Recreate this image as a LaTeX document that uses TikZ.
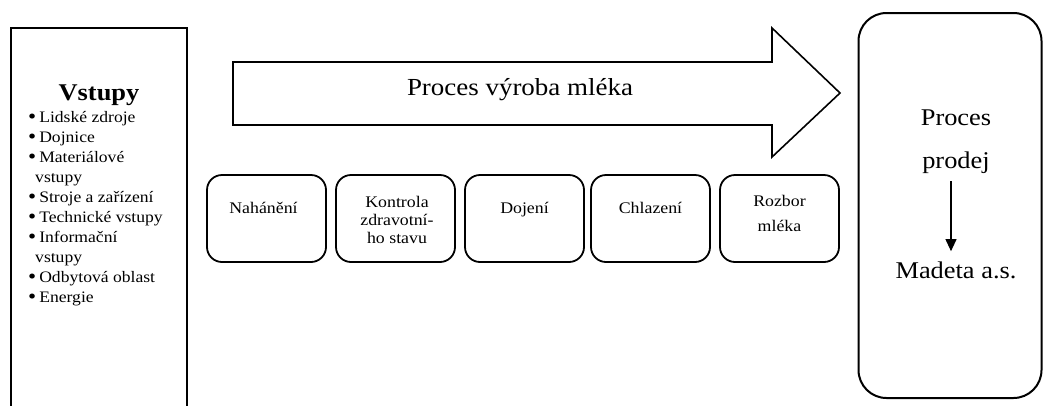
\documentclass[tikz,border=0pt]{standalone}
\usepackage{fontspec}
\setmainfont{Liberation Serif}[FakeStretch=1.1]
\usetikzlibrary{arrows.meta,calc}
\newcommand\mybul{{\fontsize{21}{20}\selectfont\raisebox{-1.9pt}{•}}\hspace{3pt}}
\begin{document}
\begin{tikzpicture}[x=1pt,y=-1pt,
  stepbox/.style={draw,line width=1.8pt,rounded corners=15pt,minimum width=119pt,minimum height=87pt,inner sep=0pt},
  boxtxt/.style={font=\fontsize{16.2}{18}\selectfont,anchor=base,inner sep=0pt},
  itemtxt/.style={font=\fontsize{16}{20}\selectfont,anchor=base west,inner sep=0pt},
  bigtxt/.style={font=\fontsize{24.5}{27}\selectfont,anchor=base,inner sep=0pt},
  saletxt/.style={font=\fontsize{24}{27}\selectfont,anchor=base,inner sep=0pt},
  salebox/.style={draw,line width=2pt,rounded corners=28pt,minimum width=183pt,minimum height=385pt,inner sep=0pt}]
\useasboundingbox (0,0) rectangle (1043,405);
\clip (0,0) rectangle (1043,405);
% inputs box (open at bottom)
\draw[line width=2.5pt] (11,430) -- (11,28) -- (187,28) -- (187,430);
\node[font=\bfseries\fontsize{24}{26}\selectfont,anchor=base,inner sep=0pt] (vst) at (99,100) {Vstupy};
\foreach \t [count=\i] in {\mybul Lidské zdroje,\mybul Dojnice,\mybul Materiálové,\hspace*{7pt}vstupy,\mybul Stroje a zařízení,\mybul Technické vstupy,\mybul Informační,\hspace*{7pt}vstupy,\mybul Odbytová oblast,\mybul Energie}
  \node[itemtxt] (l\i) at (28,{102+20*\i}) {\t};
% big process arrow
\draw[line width=1.6pt,line join=miter] (233,62) -- (772,62) -- (772,28) -- (840,93) -- (772,157) -- (772,125) -- (233,125) -- cycle;
\node[bigtxt] (title) at (520,95) {Proces výroba mléka};
% process steps
\node[stepbox] (b1) at (266.5,218.5) {};
\node[stepbox] (b2) at (395.5,218.5) {};
\node[stepbox] (b3) at (524.5,218.5) {};
\node[stepbox] (b4) at (650.5,218.5) {};
\node[stepbox] (b5) at (779.5,218.5) {};
\node[boxtxt] (t1) at (263.5,213) {Nahánění};
\node[boxtxt] (t2a) at (397,207) {Kontrola};
\node[boxtxt] (t2b) at (397,225) {zdravotní-};
\node[boxtxt] (t2c) at (397,243) {ho stavu};
\node[boxtxt] (t3) at (524.5,213) {Dojení};
\node[boxtxt] (t4) at (650.5,213) {Chlazení};
\node[boxtxt] (t5a) at (779.5,206) {Rozbor};
\node[boxtxt] (t5b) at (779.5,231) {mléka};
% sales box
\node[salebox] (sales) at (950,205.5) {};
\node[saletxt] (proc) at (956,125) {Proces};
\node[saletxt] (prod) at (956,168) {prodej};
\node[saletxt] (mad) at (956,278) {Madeta a.s.};
\draw[line width=1.1pt,-{Triangle[width=11pt,length=12pt]}] ([xshift=-5pt,yshift=-8pt]prod.south) -- ([xshift=-5pt,yshift=10pt]mad.north);
\end{tikzpicture}
\end{document}
